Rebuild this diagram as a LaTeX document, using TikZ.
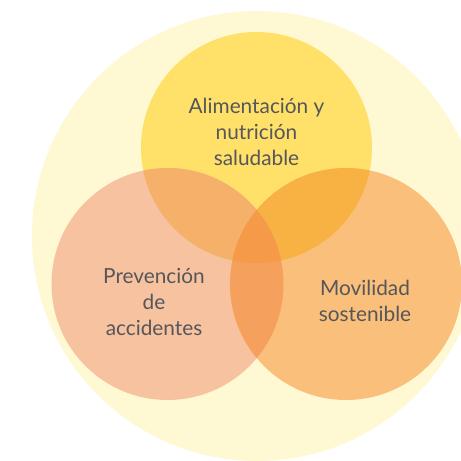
\documentclass[tikz,border=0pt]{standalone}
\usepackage{fontspec}
\setmainfont{Lato}
\definecolor{bgc}{HTML}{FFF9D3}
\definecolor{topc}{HTML}{FFE16A}
\definecolor{leftc}{HTML}{F7C2A0}
\definecolor{rightc}{HTML}{F9BF7B}
\definecolor{tlc}{HTML}{F5B06A}
\definecolor{trc}{HTML}{F8B244}
\definecolor{lrc}{HTML}{F6A05E}
\definecolor{midc}{HTML}{F59A48}
\definecolor{txtc}{HTML}{56565A}
\tikzset{lbl/.style={text=txtc,font=\fontsize{20.8}{26}\selectfont,align=center}}
\begin{document}
\begin{tikzpicture}[x=1pt,y=-1pt]
\useasboundingbox (0,0) rectangle (461,461);
\clip (0,0) rectangle (461,461);
\fill[white] (0,0) rectangle (461,461);
\def\Tc{(256.5,147.5) circle (115.5)}
\def\Lc{(167.5,284) circle (116)}
\def\Rc{(346,284) circle (116)}
\fill[bgc] (257,236) circle (225);
\fill[topc] \Tc;
\fill[leftc] \Lc;
\fill[rightc] \Rc;
\begin{scope}\clip \Tc; \fill[tlc] \Lc; \end{scope}
\begin{scope}\clip \Tc; \fill[trc] \Rc; \end{scope}
\begin{scope}\clip \Lc; \fill[lrc] \Rc; \end{scope}
\begin{scope}\clip \Tc; \clip \Lc; \fill[midc] \Rc; \end{scope}
\node[lbl] (alim) at (256.5,132) {Alimentación y\\nutrición\\saludable};
\node[lbl] (prev) at (154,302) {Prevención\\de\\accidentes};
\node[lbl] (movi) at (365,301) {Movilidad\\sostenible};
\end{tikzpicture}
\end{document}
